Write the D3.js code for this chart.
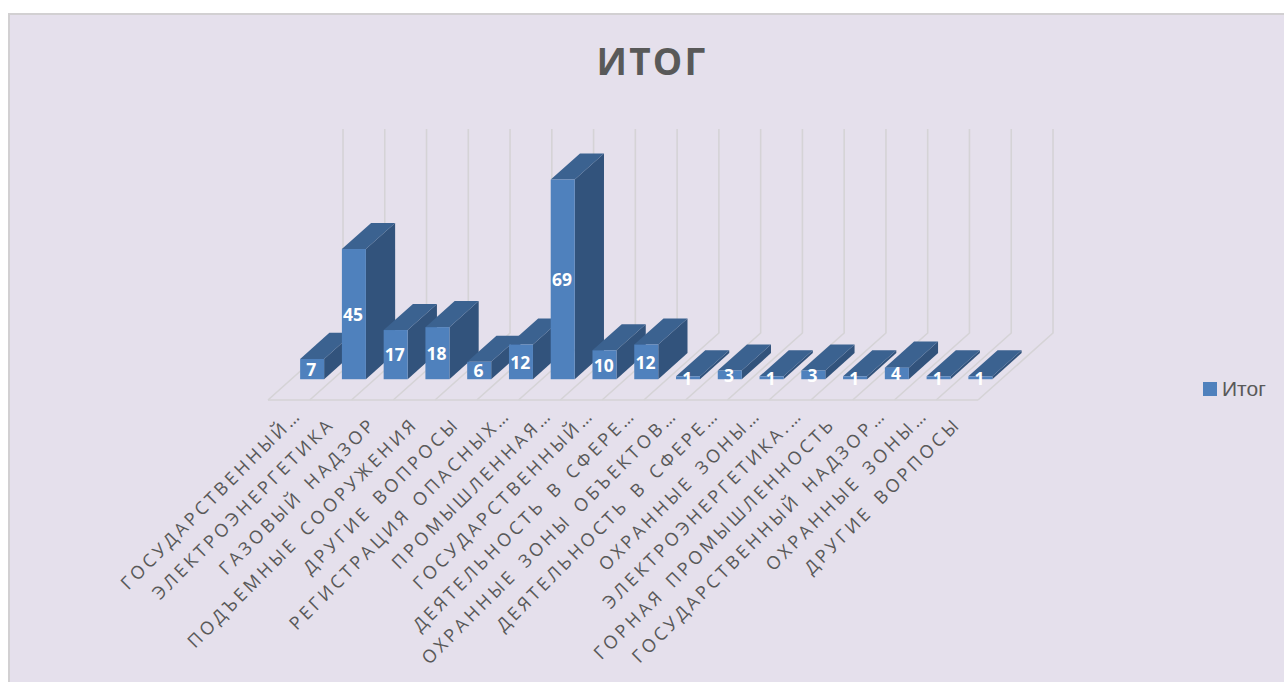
<!DOCTYPE html>
<html>
<head>
<meta charset="utf-8">
<script src="https://d3js.org/d3.v7.min.js"></script>
<style>
  body { margin: 0; background: #fff; }
  svg { display: block; }
</style>
</head>
<body>
<div id="chart"></div>
<script>
var categories = [
  "ГОСУДАРСТВЕННЫЙ…", "ЭЛЕКТРОЭНЕРГЕТИКА", "ГАЗОВЫЙ НАДЗОР", "ПОДЪЕМНЫЕ СООРУЖЕНИЯ",
  "ДРУГИЕ ВОПРОСЫ", "РЕГИСТРАЦИЯ ОПАСНЫХ…", "ПРОМЫШЛЕННАЯ…", "ГОСУДАРСТВЕННЫЙ…",
  "ДЕЯТЕЛЬНОСТЬ В СФЕРЕ…", "ОХРАННЫЕ ЗОНЫ ОБЪЕКТОВ…", "ДЕЯТЕЛЬНОСТЬ В СФЕРЕ…",
  "ОХРАННЫЕ ЗОНЫ…", "ЭЛЕКТРОЭНЕРГЕТИКА.…", "ГОРНАЯ ПРОМЫШЛЕННОСТЬ",
  "ГОСУДАРСТВЕННЫЙ НАДЗОР…", "ОХРАННЫЕ ЗОНЫ…", "ДРУГИЕ ВОРПОСЫ"
];
var values = [7, 45, 17, 18, 6, 12, 69, 10, 12, 1, 3, 1, 3, 1, 4, 1, 1];
var seriesName = "Итог";
var chartTitle = "ИТОГ";

var width = 1284, height = 682;
var floorY = 400, wallY = 333, wallTop = 129;
// floor runs back along this vector, from front edge to the wall
var depth = { x: 75, y: wallY - floorY };
var barWidth = 24;

var svg = d3.select("#chart").append("svg")
  .attr("width", width)
  .attr("height", height);

// chart area
svg.append("rect")
  .attr("x", 9).attr("y", 14)
  .attr("width", width).attr("height", height)
  .attr("fill", "#e5e0ec")
  .attr("stroke", "#d2d0d2")
  .attr("stroke-width", 2);

// categories repeat, so the band scale works on the index
var x = d3.scaleBand()
  .domain(d3.range(categories.length))
  .range([268, 978]);
var step = x.step();
function cellX(i) { return 268 + i * step; }

var y = d3.scaleLinear()
  .domain([0, 70.5])
  .range([0, wallY - wallTop]);

// grid: one line per cell edge, on the wall and on the floor
var edges = d3.range(categories.length + 1);
var grid = svg.append("g")
  .attr("fill", "none")
  .attr("stroke", "#d5d3d6")
  .attr("stroke-width", 1.6);

grid.selectAll("path")
  .data(edges)
  .enter()
  .append("path")
  .attr("d", function(i) {
    var x0 = cellX(i);
    return "M" + x0 + "," + floorY + "L" + (x0 + depth.x) + "," + wallY + "V" + wallTop;
  });

grid.append("line")
  .attr("x1", cellX(0)).attr("x2", cellX(categories.length))
  .attr("y1", floorY).attr("y2", floorY);

// bars sit in the middle of the floor depth
var frontT = 0.31, backT = 0.70;

function barGeom(i) {
  var left = x(i) + (step - barWidth) / 2 + depth.x * frontT;
  var base = floorY + depth.y * frontT;
  var dx = depth.x * (backT - frontT), dy = depth.y * (backT - frontT);
  var h = y(values[i]);
  return { left: left, right: left + barWidth, base: base, top: base - h, dx: dx, dy: dy, h: h };
}

function poly(pts) {
  return pts.map(function(p) { return p.join(","); }).join(" ");
}

var bars = svg.append("g").selectAll("g")
  .data(values)
  .enter()
  .append("g");

bars.append("polygon") // side
  .attr("fill", "#32537c")
  .attr("points", function(d, i) {
    var b = barGeom(i);
    return poly([[b.right, b.base], [b.right + b.dx, b.base + b.dy], [b.right + b.dx, b.top + b.dy], [b.right, b.top]]);
  });

bars.append("polygon") // top
  .attr("fill", "#3b6290")
  .attr("points", function(d, i) {
    var b = barGeom(i);
    return poly([[b.left, b.top], [b.right, b.top], [b.right + b.dx, b.top + b.dy], [b.left + b.dx, b.top + b.dy]]);
  });

bars.append("rect") // front
  .attr("fill", "#4f81bd")
  .attr("x", function(d, i) { return barGeom(i).left; })
  .attr("y", function(d, i) { return barGeom(i).top; })
  .attr("width", barWidth)
  .attr("height", function(d, i) { return barGeom(i).h; });

// value labels on top of all the bars
svg.append("g").selectAll("text")
  .data(values)
  .enter()
  .append("text")
  .attr("x", function(d, i) { return barGeom(i).left + barWidth / 2 - 0.8; })
  .attr("y", function(d, i) { var b = barGeom(i); return b.top + b.h / 2; })
  .attr("dy", "0.39em")
  .attr("text-anchor", "middle")
  .attr("font-family", "'Open Sans', sans-serif")
  .attr("font-weight", 700)
  .attr("font-size", 17.5)
  .attr("fill", "#fff")
  .text(function(d) { return d; });

// category axis, labels at 45 degrees
var labelAxis = d3.axisBottom(x)
  .tickSize(0)
  .tickFormat(function(i) { return categories[i]; });

var axisG = svg.append("g")
  .attr("transform", "translate(0," + floorY + ")")
  .call(labelAxis);
axisG.select(".domain").remove();
axisG.selectAll("text")
  .attr("y", 0)
  .attr("dy", 0)
  .attr("transform", function(i) {
    // cut labels reach a little further along the slant
    var extra = categories[i].slice(-1) === "…" ? 9 : 0;
    return "translate(" + (5 + extra) + "," + (25 - extra) + ") rotate(-45)";
  })
  .attr("text-anchor", "end")
  .attr("font-family", "'Open Sans', sans-serif")
  .attr("font-size", 18)
  .attr("letter-spacing", 3.4)
  .attr("word-spacing", 3)
  .attr("fill", "#595959");

// title
svg.append("text")
  .attr("x", 652)
  .attr("y", 75)
  .attr("text-anchor", "middle")
  .attr("font-family", "'Open Sans', sans-serif")
  .attr("font-weight", 700)
  .attr("font-size", 37)
  .attr("letter-spacing", 2.2)
  .attr("fill", "#595959")
  .text(chartTitle);

// legend
svg.append("rect")
  .attr("x", 1203).attr("y", 382)
  .attr("width", 14).attr("height", 14)
  .attr("fill", "#4f81bd");
svg.append("text")
  .attr("x", 1222)
  .attr("y", 396)
  .attr("font-family", "'Liberation Sans', sans-serif")
  .attr("font-size", 21)
  .attr("fill", "#595959")
  .text(seriesName);
</script>
</body>
</html>
